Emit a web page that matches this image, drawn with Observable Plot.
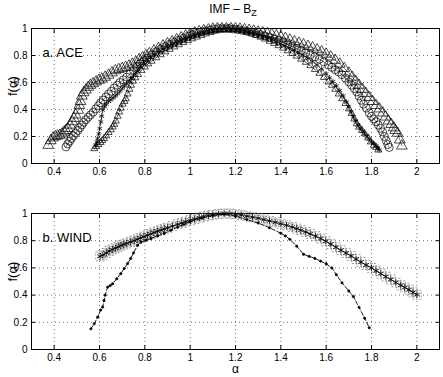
<!DOCTYPE html>
<html><head><meta charset="utf-8">
<script src="https://cdn.jsdelivr.net/npm/d3@7"></script>
<script src="https://cdn.jsdelivr.net/npm/@observablehq/plot@0.6"></script>
<style>
body{margin:0;background:#fff;}
#wrap{position:relative;width:443px;height:377px;font-family:"Liberation Sans",Arial,sans-serif;}
#title{position:absolute;left:233px;top:2px;transform:translateX(-50%);font-size:12px;white-space:nowrap;line-height:14px;}
#title sub{font-size:9px;vertical-align:-3px;line-height:0;}
.panel{position:absolute;left:0;}
</style>
</head><body>
<div id="wrap"><div id="title">IMF – B<sub>Z</sub></div></div>
<script>
// ---- Panel a: ACE, f(alpha) spectra ----
const aceTriangles = [[0.374,0.135],[0.385,0.17],[0.395,0.19],[0.405,0.2],[0.415,0.205],[0.425,0.21],[0.435,0.22],[0.444,0.234],[0.452,0.245],[0.46,0.26],[0.47,0.285],[0.48,0.31],[0.487,0.335],[0.495,0.36],[0.506,0.395],[0.511,0.43],[0.516,0.46],[0.522,0.5],[0.53,0.525],[0.54,0.545],[0.55,0.565],[0.56,0.58],[0.572,0.592],[0.585,0.605],[0.598,0.617],[0.61,0.627],[0.625,0.64],[0.64,0.655],[0.655,0.672],[0.67,0.688],[0.685,0.697],[0.7,0.705],[0.715,0.713],[0.73,0.723],[0.745,0.736],[0.76,0.752],[0.775,0.77],[0.79,0.785],[0.805,0.8],[0.82,0.815],[0.84,0.835],[0.86,0.853],[0.88,0.872],[0.9,0.888],[0.92,0.903],[0.94,0.918],[0.96,0.932],[0.98,0.946],[1.0,0.958],[1.02,0.968],[1.04,0.977],[1.06,0.985],[1.08,0.991],[1.1,0.996],[1.12,0.999],[1.14,1.0],[1.16,1.0],[1.18,1.0],[1.2,0.999],[1.22,0.996],[1.24,0.992],[1.26,0.987],[1.28,0.981],[1.3,0.975],[1.32,0.969],[1.34,0.963],[1.36,0.955],[1.38,0.947],[1.4,0.938],[1.42,0.927],[1.44,0.915],[1.46,0.903],[1.48,0.892],[1.5,0.88],[1.52,0.868],[1.54,0.857],[1.56,0.843],[1.58,0.828],[1.6,0.81],[1.62,0.79],[1.64,0.765],[1.66,0.737],[1.68,0.705],[1.7,0.67],[1.715,0.64],[1.73,0.61],[1.745,0.58],[1.76,0.55],[1.775,0.52],[1.79,0.49],[1.805,0.46],[1.82,0.43],[1.835,0.405],[1.85,0.375],[1.862,0.345],[1.875,0.315],[1.887,0.29],[1.898,0.265],[1.905,0.245],[1.915,0.225],[1.925,0.175],[1.934,0.13]];
const aceCircles = [[0.452,0.123],[0.46,0.145],[0.468,0.165],[0.476,0.185],[0.485,0.205],[0.495,0.225],[0.505,0.245],[0.513,0.265],[0.522,0.285],[0.53,0.305],[0.54,0.325],[0.55,0.343],[0.56,0.36],[0.572,0.38],[0.584,0.405],[0.595,0.428],[0.605,0.45],[0.616,0.47],[0.628,0.493],[0.64,0.515],[0.652,0.535],[0.665,0.56],[0.678,0.58],[0.69,0.6],[0.705,0.62],[0.72,0.64],[0.735,0.665],[0.75,0.69],[0.765,0.715],[0.78,0.74],[0.795,0.76],[0.81,0.78],[0.83,0.805],[0.85,0.828],[0.87,0.848],[0.89,0.866],[0.91,0.883],[0.93,0.899],[0.95,0.914],[0.97,0.928],[0.99,0.942],[1.01,0.954],[1.03,0.965],[1.05,0.975],[1.07,0.983],[1.09,0.99],[1.11,0.995],[1.13,0.999],[1.15,1.0],[1.17,0.999],[1.19,0.996],[1.21,0.992],[1.23,0.986],[1.25,0.98],[1.27,0.972],[1.29,0.964],[1.31,0.955],[1.33,0.945],[1.35,0.934],[1.37,0.922],[1.39,0.91],[1.41,0.897],[1.43,0.883],[1.45,0.868],[1.47,0.852],[1.49,0.836],[1.51,0.82],[1.53,0.805],[1.55,0.79],[1.57,0.772],[1.59,0.752],[1.61,0.73],[1.625,0.712],[1.64,0.695],[1.655,0.678],[1.67,0.658],[1.685,0.632],[1.7,0.605],[1.712,0.58],[1.724,0.555],[1.735,0.53],[1.745,0.5],[1.755,0.468],[1.765,0.44],[1.777,0.41],[1.79,0.375],[1.8,0.35],[1.81,0.33],[1.82,0.31],[1.83,0.285],[1.84,0.26],[1.849,0.234],[1.857,0.2],[1.865,0.17],[1.872,0.14],[1.878,0.119]];
const aceStars = [[0.584,0.136],[0.588,0.16],[0.592,0.185],[0.597,0.22],[0.601,0.26],[0.606,0.308],[0.61,0.35],[0.614,0.395],[0.622,0.42],[0.63,0.44],[0.64,0.46],[0.65,0.472],[0.66,0.486],[0.67,0.5],[0.68,0.517],[0.69,0.535],[0.7,0.555],[0.71,0.573],[0.72,0.59],[0.73,0.61],[0.74,0.63],[0.75,0.652],[0.76,0.675],[0.77,0.698],[0.78,0.72],[0.795,0.745],[0.81,0.767],[0.825,0.787],[0.84,0.806],[0.86,0.828],[0.88,0.848],[0.9,0.866],[0.92,0.882],[0.94,0.898],[0.96,0.912],[0.98,0.926],[1.0,0.939],[1.02,0.951],[1.04,0.962],[1.06,0.972],[1.08,0.981],[1.1,0.988],[1.12,0.994],[1.14,0.998],[1.16,1.0],[1.18,0.999],[1.2,0.995],[1.22,0.99],[1.24,0.983],[1.26,0.975],[1.28,0.965],[1.3,0.954],[1.32,0.942],[1.34,0.93],[1.36,0.917],[1.38,0.903],[1.4,0.888],[1.42,0.873],[1.44,0.857],[1.46,0.84],[1.48,0.82],[1.5,0.8],[1.52,0.778],[1.54,0.755],[1.56,0.73],[1.58,0.7],[1.6,0.665],[1.615,0.635],[1.63,0.607],[1.645,0.575],[1.66,0.54],[1.675,0.5],[1.69,0.455],[1.7,0.42],[1.71,0.38],[1.72,0.345],[1.73,0.315],[1.74,0.285],[1.75,0.262],[1.76,0.24],[1.77,0.22],[1.78,0.2],[1.79,0.18],[1.8,0.16],[1.81,0.145],[1.82,0.13],[1.828,0.115],[1.834,0.1]];
const aceSmallTri = [[0.577,0.11],[0.585,0.125],[0.595,0.14],[0.605,0.155],[0.612,0.17],[0.62,0.185],[0.63,0.205],[0.64,0.23],[0.65,0.25],[0.658,0.271],[0.665,0.29],[0.672,0.315],[0.68,0.35],[0.687,0.382],[0.694,0.41],[0.702,0.44],[0.71,0.46],[0.716,0.48],[0.724,0.515],[0.732,0.55],[0.739,0.58],[0.748,0.61],[0.758,0.635],[0.77,0.66],[0.785,0.69],[0.8,0.715],[0.815,0.738],[0.83,0.758],[0.85,0.783],[0.87,0.806],[0.89,0.827],[0.91,0.846],[0.93,0.864],[0.95,0.88],[0.97,0.896],[0.99,0.91],[1.01,0.924],[1.03,0.937],[1.05,0.949],[1.07,0.96],[1.09,0.971],[1.11,0.981],[1.13,0.99],[1.15,0.996],[1.17,0.999],[1.19,0.996],[1.21,0.99],[1.23,0.982],[1.25,0.972],[1.27,0.961],[1.29,0.949],[1.31,0.936],[1.33,0.922],[1.35,0.906],[1.37,0.89],[1.39,0.873],[1.41,0.855],[1.43,0.835],[1.45,0.815],[1.47,0.795],[1.49,0.773],[1.51,0.75],[1.53,0.725],[1.55,0.697],[1.57,0.668],[1.59,0.638],[1.61,0.605],[1.625,0.58],[1.64,0.55],[1.655,0.515],[1.67,0.48],[1.685,0.445],[1.7,0.405],[1.712,0.37],[1.724,0.33],[1.735,0.295],[1.745,0.27],[1.758,0.245],[1.77,0.22],[1.785,0.19],[1.797,0.16],[1.81,0.135],[1.82,0.12],[1.83,0.1]];
// ---- Panel b: WIND ----
const windStars = [[0.603,0.685],[0.615,0.695],[0.63,0.71],[0.643,0.725],[0.657,0.735],[0.67,0.745],[0.682,0.755],[0.694,0.765],[0.707,0.772],[0.72,0.78],[0.737,0.79],[0.753,0.8],[0.767,0.81],[0.78,0.82],[0.796,0.83],[0.812,0.84],[0.826,0.85],[0.84,0.86],[0.856,0.869],[0.871,0.877],[0.886,0.886],[0.9,0.895],[0.922,0.907],[0.945,0.92],[0.963,0.93],[0.98,0.94],[1.0,0.95],[1.02,0.96],[1.04,0.97],[1.06,0.978],[1.08,0.985],[1.1,0.99],[1.125,0.996],[1.15,1.0],[1.175,0.999],[1.2,0.995],[1.225,0.988],[1.25,0.98],[1.275,0.973],[1.3,0.965],[1.325,0.955],[1.35,0.945],[1.375,0.935],[1.4,0.925],[1.425,0.913],[1.45,0.9],[1.47,0.889],[1.488,0.877],[1.51,0.864],[1.53,0.85],[1.553,0.833],[1.576,0.816],[1.598,0.796],[1.62,0.775],[1.643,0.752],[1.665,0.73],[1.688,0.709],[1.71,0.688],[1.732,0.665],[1.753,0.643],[1.776,0.621],[1.8,0.6],[1.82,0.579],[1.841,0.558],[1.863,0.536],[1.885,0.515],[1.907,0.493],[1.929,0.472],[1.947,0.456],[1.965,0.44],[1.983,0.42],[2.0,0.403]];
const windDots = [[0.562,0.152],[0.577,0.19],[0.592,0.238],[0.605,0.29],[0.614,0.312],[0.62,0.36],[0.625,0.40],[0.636,0.459],[0.647,0.47],[0.658,0.484],[0.676,0.52],[0.694,0.558],[0.709,0.595],[0.724,0.632],[0.738,0.67],[0.75,0.71],[0.768,0.766],[0.783,0.79],[0.805,0.803],[0.827,0.816],[0.856,0.835],[0.885,0.853],[0.915,0.877],[0.945,0.90],[0.972,0.92],[1.0,0.94],[1.05,0.965],[1.1,0.985],[1.15,0.995],[1.2,0.98],[1.25,0.955],[1.3,0.93],[1.35,0.895],[1.4,0.855],[1.42,0.835],[1.44,0.81],[1.47,0.76],[1.5,0.70],[1.525,0.685],[1.55,0.67],[1.575,0.65],[1.6,0.63],[1.625,0.60],[1.645,0.55],[1.67,0.49],[1.7,0.43],[1.72,0.39],[1.745,0.31],[1.77,0.23],[1.79,0.16]];

const xTicks = [0.4,0.6,0.8,1,1.2,1.4,1.6,1.8,2];
const yTicks = [0,0.2,0.4,0.6,0.8,1];
const titleA = "a. ACE", titleB = "b. WIND";

function frameMarks(xlabel) {
  const m = [
    Plot.gridX(xTicks, {stroke:"#000", strokeOpacity:0.55, strokeDasharray:"1,3"}),
    Plot.gridY(yTicks, {stroke:"#000", strokeOpacity:0.55, strokeDasharray:"1,3"}),
    Plot.axisX(xTicks, {anchor:"bottom", tickSize:-4, tickPadding:8, tickFormat:d=>String(d), fontSize:10}),
    Plot.axisX(xTicks, {anchor:"top", tickSize:-4, tickFormat:()=>"", label:null}),
    Plot.axisY(yTicks, {anchor:"left", tickSize:-4, tickPadding:8, tickFormat:d=>String(d), fontSize:10, label:null}),
    Plot.axisY(yTicks, {anchor:"right", tickSize:-4, tickFormat:()=>"", label:null}),
    Plot.frame({stroke:"#000", strokeWidth:1}),
    Plot.text(["f(α)"], {frameAnchor:"left", dx:-19, rotate:-90, fontSize:13})
  ];
  if (xlabel) m.push(Plot.text(["α"], {frameAnchor:"bottom", dy:23, fontSize:12}));
  return m;
}

const common = {width:443, marginLeft:31, marginRight:4, x:{domain:[0.3,2.1], axis:null}, y:{domain:[0,1], axis:null},
  style:{fontFamily:"Liberation Sans, Arial, sans-serif", fontSize:"10px", color:"#000", background:"transparent", overflow:"visible"}};

const p1 = Plot.plot({...common, height:180, marginTop:28, marginBottom:17,
  marks:[
    ...frameMarks(false),
    Plot.line(aceTriangles, {x:d=>d[0], y:d=>d[1], stroke:"#000", strokeWidth:0.5}),
    Plot.dot(aceTriangles, {x:d=>d[0], y:d=>d[1], symbol:"triangle", r:4, stroke:"#000", strokeWidth:0.7, fill:"none"}),
    Plot.line(aceCircles, {x:d=>d[0], y:d=>d[1], stroke:"#000", strokeWidth:0.5}),
    Plot.dot(aceCircles, {x:d=>d[0], y:d=>d[1], symbol:"circle", r:4, stroke:"#000", strokeWidth:0.7, fill:"none"}),
    Plot.line(aceStars, {x:d=>d[0], y:d=>d[1], stroke:"#000", strokeWidth:0.7, strokeDasharray:"3,2"}),
    Plot.dot(aceStars, {x:d=>d[0], y:d=>d[1], symbol:"asterisk", r:2.6, stroke:"#000", strokeWidth:0.7}),
    Plot.line(aceSmallTri, {x:d=>d[0], y:d=>d[1], stroke:"#000", strokeWidth:0.7, strokeDasharray:"3,2"}),
    Plot.dot(aceSmallTri, {x:d=>d[0], y:d=>d[1], symbol:"triangle", r:2.6, stroke:"#000", strokeWidth:0.7, fill:"none"}),
    Plot.text([titleA], {frameAnchor:"top-left", dx:11, dy:19, fontSize:13, textAnchor:"start"})
  ]});
p1.classList.add("panel"); p1.style.top = "0px";

const p2 = Plot.plot({...common, height:197, marginTop:33, marginBottom:28,
  marks:[
    ...frameMarks(true),
    Plot.dot(windStars, {x:d=>d[0], y:d=>d[1], symbol:"square", r:5, stroke:"#777", strokeWidth:0.7, strokeDasharray:"2,1.5", fill:"none"}),
    Plot.line(windStars, {x:d=>d[0], y:d=>d[1], stroke:"#000", strokeWidth:0.7}),
    Plot.dot(windStars, {x:d=>d[0], y:d=>d[1], symbol:"asterisk", r:3.2, stroke:"#000", strokeWidth:0.8}),
    Plot.line(windDots, {x:d=>d[0], y:d=>d[1], stroke:"#000", strokeWidth:0.9, strokeDasharray:"4,2"}),
    Plot.dot(windDots, {x:d=>d[0], y:d=>d[1], symbol:"circle", r:1.2, stroke:"#000", strokeWidth:0.5, fill:"#000"}),
    Plot.text([titleB], {frameAnchor:"top-left", dx:11, dy:19, fontSize:13, textAnchor:"start"})
  ]});
p2.classList.add("panel"); p2.style.top = "180px";

const wrap = document.getElementById("wrap");
wrap.appendChild(p1); wrap.appendChild(p2);
</script>
</body></html>
